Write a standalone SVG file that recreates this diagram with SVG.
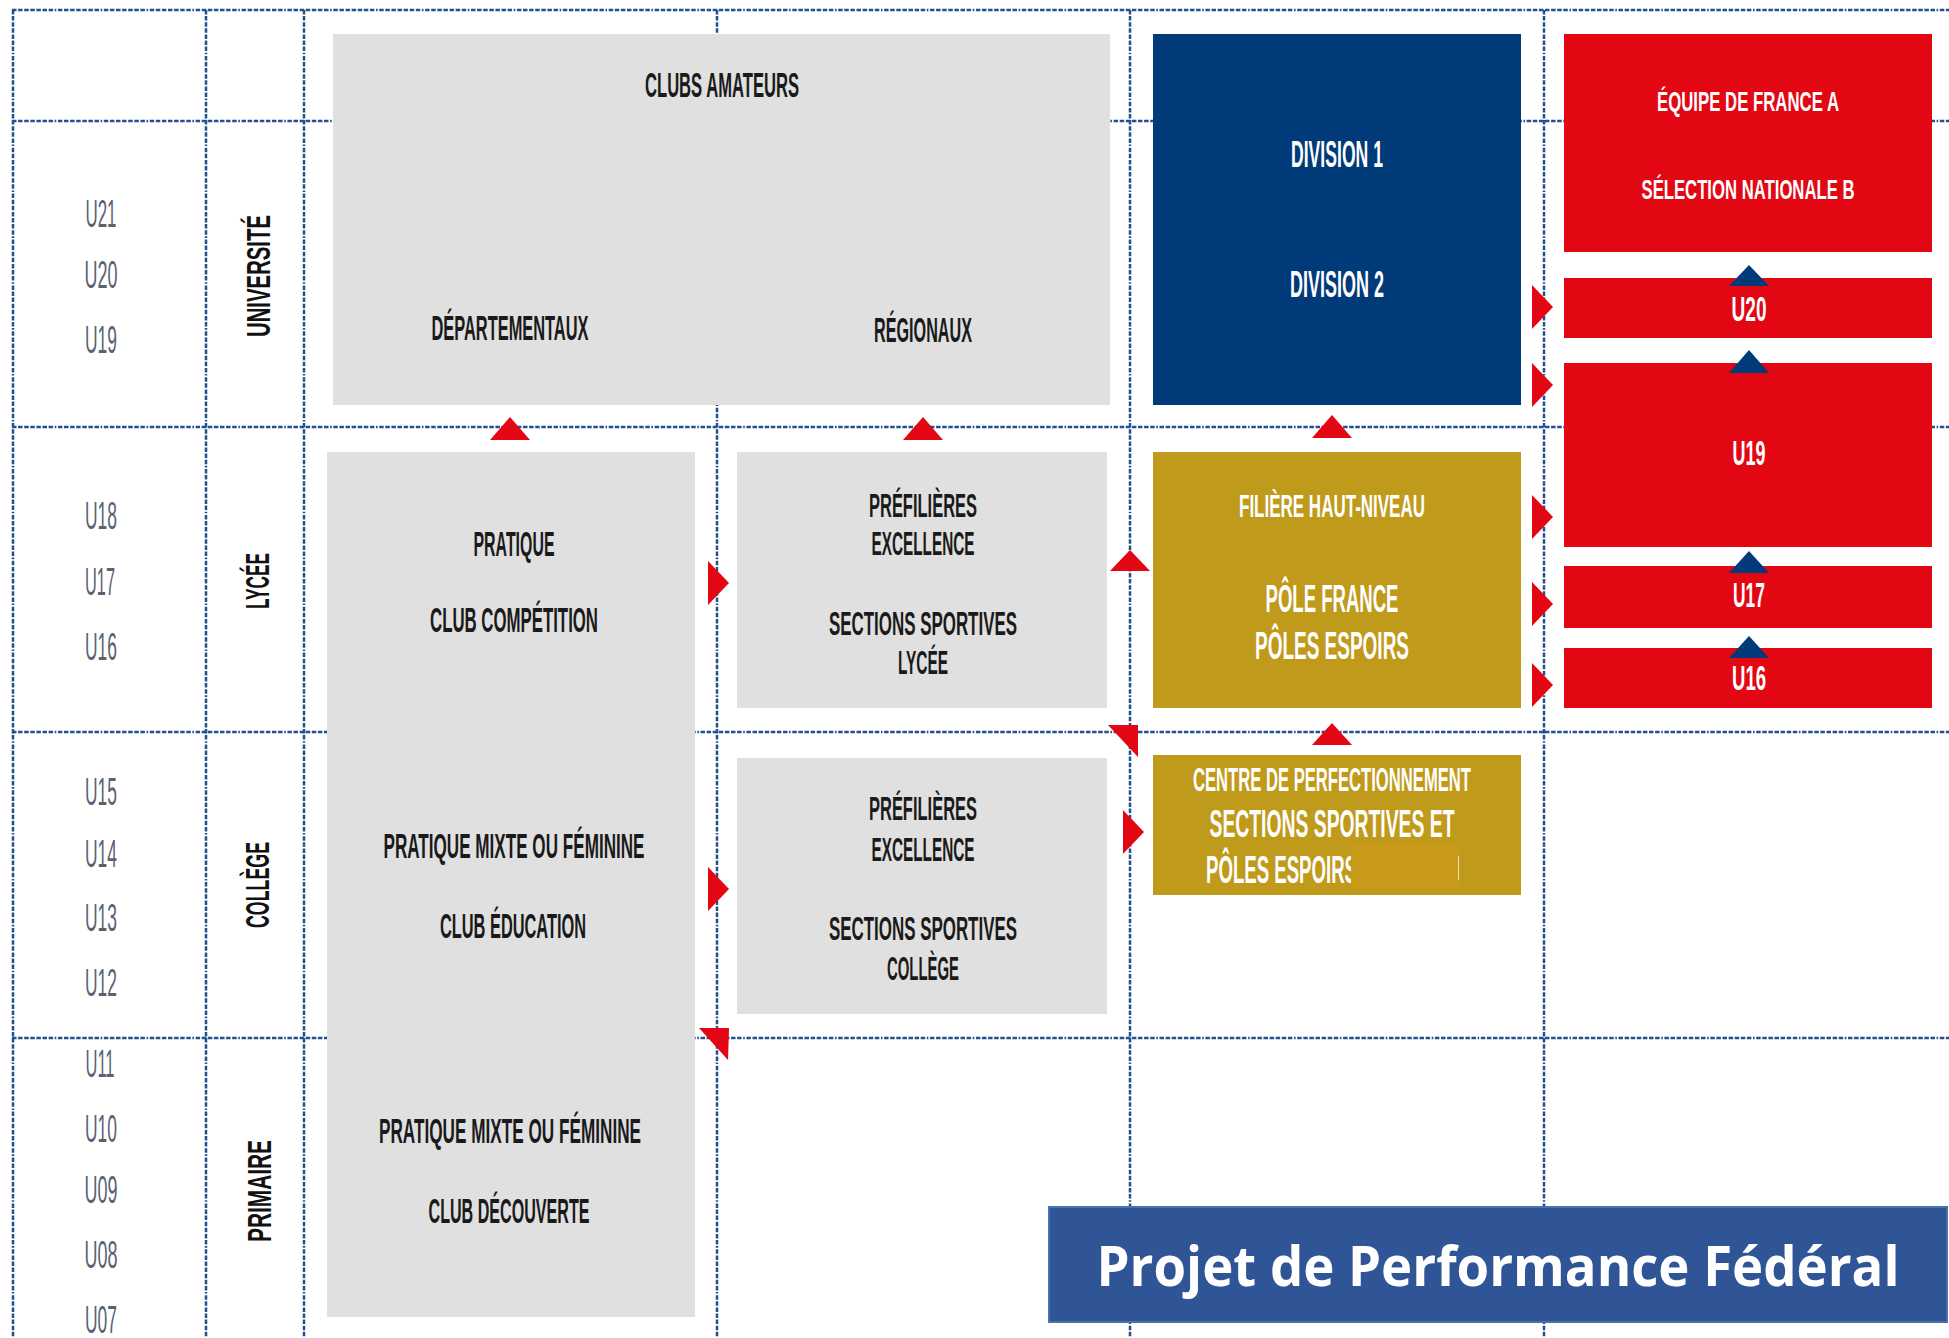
<svg xmlns="http://www.w3.org/2000/svg" width="1949" height="1338" viewBox="0 0 1949 1338">
<style>
.grid line{stroke:#23508e;stroke-width:2.5;stroke-dasharray:4.5 1.6 4.5 1.6 4.5 1.6 4.5 1.6 4.5 1.6 4.5 1.6 4.5 1.6 1.6 1.6;fill:none}
.c{font-family:"Liberation Sans Narrow","Liberation Sans",Arial,sans-serif;text-anchor:middle}
.age{font-size:39px;fill:#5a6272;font-weight:normal}
.cat{font-size:34px;fill:#111;font-weight:bold}
.dk{font-size:35px;fill:#1a1a1a;font-weight:bold}
.dk2{font-size:33px;fill:#1a1a1a;font-weight:bold}
.wh{fill:#fff;font-weight:bold}
.grey{fill:#e0e0e0}
.navy{fill:#003a78}
.red{fill:#e30613}
.gold{fill:#bf9a1b}
.tri-r{fill:#e30613}
.tri-b{fill:#003a78}
</style>
<rect width="1949" height="1338" fill="#fff"/>
<g class="grid">
<line x1="12" y1="10" x2="1949" y2="10"/>
<line x1="12" y1="121" x2="1949" y2="121"/>
<line x1="12" y1="427" x2="1949" y2="427"/>
<line x1="12" y1="732" x2="1949" y2="732"/>
<line x1="12" y1="1038" x2="1949" y2="1038"/>
<line x1="13" y1="10" x2="13" y2="1338"/>
<line x1="206" y1="10" x2="206" y2="1338"/>
<line x1="304" y1="10" x2="304" y2="1338"/>
<line x1="717" y1="10" x2="717" y2="1338"/>
<line x1="1130" y1="10" x2="1130" y2="1338"/>
<line x1="1544" y1="10" x2="1544" y2="1338"/>
</g>
<g id="ages" class="c age">
<text x="101" y="227" textLength="31" lengthAdjust="spacingAndGlyphs">U21</text>
<text x="101" y="288" textLength="33" lengthAdjust="spacingAndGlyphs">U20</text>
<text x="101" y="353" textLength="32" lengthAdjust="spacingAndGlyphs">U19</text>
<text x="101" y="529" textLength="32" lengthAdjust="spacingAndGlyphs">U18</text>
<text x="100" y="595" textLength="30" lengthAdjust="spacingAndGlyphs">U17</text>
<text x="101" y="660" textLength="32" lengthAdjust="spacingAndGlyphs">U16</text>
<text x="101" y="805" textLength="32" lengthAdjust="spacingAndGlyphs">U15</text>
<text x="101" y="867" textLength="32" lengthAdjust="spacingAndGlyphs">U14</text>
<text x="101" y="931" textLength="32" lengthAdjust="spacingAndGlyphs">U13</text>
<text x="101" y="996" textLength="32" lengthAdjust="spacingAndGlyphs">U12</text>
<text x="100" y="1077" textLength="29" lengthAdjust="spacingAndGlyphs">U11</text>
<text x="101" y="1142" textLength="32" lengthAdjust="spacingAndGlyphs">U10</text>
<text x="101" y="1203" textLength="33" lengthAdjust="spacingAndGlyphs">U09</text>
<text x="101" y="1268" textLength="33" lengthAdjust="spacingAndGlyphs">U08</text>
<text x="101" y="1333" textLength="32" lengthAdjust="spacingAndGlyphs">U07</text>
</g>
<g id="categories" class="c cat">
<text transform="translate(270,276) rotate(-90)" textLength="122" lengthAdjust="spacingAndGlyphs">UNIVERSITÉ</text>
<text transform="translate(269,581) rotate(-90)" textLength="56" lengthAdjust="spacingAndGlyphs">LYCÉE</text>
<text transform="translate(269,885) rotate(-90)" textLength="86" lengthAdjust="spacingAndGlyphs">COLLÈGE</text>
<text transform="translate(271,1191) rotate(-90)" textLength="102" lengthAdjust="spacingAndGlyphs">PRIMAIRE</text>
</g>
<g id="clubs-amateurs">
<rect class="grey" x="333" y="34" width="777" height="371"/>
<text class="c dk" x="722" y="97" textLength="154" lengthAdjust="spacingAndGlyphs">CLUBS AMATEURS</text>
<text class="c dk" x="510" y="340" textLength="157" lengthAdjust="spacingAndGlyphs">DÉPARTEMENTAUX</text>
<text class="c dk" x="923" y="342" textLength="98" lengthAdjust="spacingAndGlyphs">RÉGIONAUX</text>
</g>
<g id="divisions">
<rect class="navy" x="1153" y="34" width="368" height="371"/>
<text class="c wh" style="font-size:37px" x="1337" y="167" textLength="92" lengthAdjust="spacingAndGlyphs">DIVISION 1</text>
<text class="c wh" style="font-size:37px" x="1337" y="297" textLength="94" lengthAdjust="spacingAndGlyphs">DIVISION 2</text>
</g>
<g id="equipe-france">
<rect class="red" x="1564" y="34" width="368" height="218"/>
<text class="c wh" style="font-size:28px" x="1748" y="111" textLength="182" lengthAdjust="spacingAndGlyphs">ÉQUIPE DE FRANCE A</text>
<text class="c wh" style="font-size:28px" x="1748" y="199" textLength="213" lengthAdjust="spacingAndGlyphs">SÉLECTION NATIONALE B</text>
</g>
<g id="u20">
<rect class="red" x="1564" y="278" width="368" height="60"/>
<text class="c wh" style="font-size:35px" x="1749" y="321" textLength="35" lengthAdjust="spacingAndGlyphs">U20</text>
</g>
<g id="u19">
<rect class="red" x="1564" y="363" width="368" height="184"/>
<text class="c wh" style="font-size:35px" x="1749" y="465" textLength="33" lengthAdjust="spacingAndGlyphs">U19</text>
</g>
<g id="u17">
<rect class="red" x="1564" y="566" width="368" height="62"/>
<text class="c wh" style="font-size:35px" x="1749" y="607" textLength="32" lengthAdjust="spacingAndGlyphs">U17</text>
</g>
<g id="u16">
<rect class="red" x="1564" y="648" width="368" height="60"/>
<text class="c wh" style="font-size:35px" x="1749" y="690" textLength="34" lengthAdjust="spacingAndGlyphs">U16</text>
</g>
<g id="pratique-club">
<rect class="grey" x="327" y="452" width="368" height="865"/>
<text class="c dk" x="514" y="556" textLength="81" lengthAdjust="spacingAndGlyphs">PRATIQUE</text>
<text class="c dk" x="514" y="632" textLength="168" lengthAdjust="spacingAndGlyphs">CLUB COMPÉTITION</text>
<text class="c dk" x="514" y="858" textLength="261" lengthAdjust="spacingAndGlyphs">PRATIQUE MIXTE OU FÉMININE</text>
<text class="c dk" x="513" y="938" textLength="146" lengthAdjust="spacingAndGlyphs">CLUB ÉDUCATION</text>
<text class="c dk" x="510" y="1143" textLength="262" lengthAdjust="spacingAndGlyphs">PRATIQUE MIXTE OU FÉMININE</text>
<text class="c dk" x="509" y="1223" textLength="161" lengthAdjust="spacingAndGlyphs">CLUB DÉCOUVERTE</text>
</g>
<g id="prefilieres-lycee">
<rect class="grey" x="737" y="452" width="370" height="256"/>
<text class="c dk2" x="923" y="517" textLength="108" lengthAdjust="spacingAndGlyphs">PRÉFILIÈRES</text>
<text class="c dk2" x="923" y="555" textLength="103" lengthAdjust="spacingAndGlyphs">EXCELLENCE</text>
<text class="c dk2" x="923" y="635" textLength="188" lengthAdjust="spacingAndGlyphs">SECTIONS SPORTIVES</text>
<text class="c dk2" x="923" y="674" textLength="50" lengthAdjust="spacingAndGlyphs">LYCÉE</text>
</g>
<g id="prefilieres-college">
<rect class="grey" x="737" y="758" width="370" height="256"/>
<text class="c dk2" x="923" y="820" textLength="108" lengthAdjust="spacingAndGlyphs">PRÉFILIÈRES</text>
<text class="c dk2" x="923" y="861" textLength="103" lengthAdjust="spacingAndGlyphs">EXCELLENCE</text>
<text class="c dk2" x="923" y="940" textLength="188" lengthAdjust="spacingAndGlyphs">SECTIONS SPORTIVES</text>
<text class="c dk2" x="923" y="980" textLength="72" lengthAdjust="spacingAndGlyphs">COLLÈGE</text>
</g>
<g id="filiere-haut-niveau">
<rect class="gold" x="1153" y="452" width="368" height="256"/>
<text class="c wh" style="font-size:31px" x="1332" y="517" textLength="186" lengthAdjust="spacingAndGlyphs">FILIÈRE HAUT-NIVEAU</text>
<text class="c wh" style="font-size:38px" x="1332" y="612" textLength="133" lengthAdjust="spacingAndGlyphs">PÔLE FRANCE</text>
<text class="c wh" style="font-size:38px" x="1332" y="659" textLength="154" lengthAdjust="spacingAndGlyphs">PÔLES ESPOIRS</text>
</g>
<g id="centre-perfectionnement">
<rect class="gold" x="1153" y="755" width="368" height="140"/>
<text class="c wh" style="font-size:33px" x="1332" y="791" textLength="278" lengthAdjust="spacingAndGlyphs">CENTRE DE PERFECTIONNEMENT</text>
<text class="c wh" style="font-size:38px" x="1332" y="837" textLength="245" lengthAdjust="spacingAndGlyphs">SECTIONS SPORTIVES ET</text>
<text class="wh" style="font-family:'Liberation Sans Narrow','Liberation Sans',Arial,sans-serif;font-size:39px" x="1206" y="883" textLength="151" lengthAdjust="spacingAndGlyphs">PÔLES ESPOIRS</text>
<rect x="1351" y="843" width="108" height="47" fill="#c9991a"/>
<line x1="1458.5" y1="856" x2="1458.5" y2="880" stroke="#efe0b0" stroke-width="1"/>
</g>
<g id="connectors">
<polygon class="tri-r" points="510,417 490,440 530,440"/>
<polygon class="tri-r" points="923,417 903,440 943,440"/>
<polygon class="tri-r" points="1332,415 1312,438 1352,438"/>
<polygon class="tri-r" points="1130,550 1110,571 1150,571"/>
<polygon class="tri-r" points="1332,723 1312,745 1352,745"/>
<polygon class="tri-r" points="708,561 729,583 708,605"/>
<polygon class="tri-r" points="708,867 729,889 708,911"/>
<polygon class="tri-r" points="1123,810 1144,832 1123,854"/>
<polygon class="tri-r" points="1532,285 1553,307 1532,329"/>
<polygon class="tri-r" points="1532,363 1553,385 1532,407"/>
<polygon class="tri-r" points="1532,495 1553,517 1532,539"/>
<polygon class="tri-r" points="1532,582 1553,604 1532,626"/>
<polygon class="tri-r" points="1532,663 1553,685 1532,707"/>
<polygon class="tri-r" points="1108,725 1138,725 1138,757"/>
<polygon class="tri-r" points="699,1028 729,1028 728,1060"/>
<polygon class="tri-b" points="1749,265 1729,286 1769,286"/>
<polygon class="tri-b" points="1749,350 1729,373 1769,373"/>
<polygon class="tri-b" points="1749,551 1729,573 1769,573"/>
<polygon class="tri-b" points="1749,636 1729,658 1769,658"/>
</g>
<g id="title">
<rect x="1049" y="1207" width="898" height="115" fill="#2f5597" stroke="#4a72aa" stroke-width="2"/>
<text x="1498" y="1286" text-anchor="middle" style="font-family:'Open Sans','Noto Sans','Liberation Sans',sans-serif;font-weight:bold;font-size:56px;fill:#fff" textLength="803" lengthAdjust="spacingAndGlyphs">Projet de Performance Fédéral</text>
</g>
</svg>
